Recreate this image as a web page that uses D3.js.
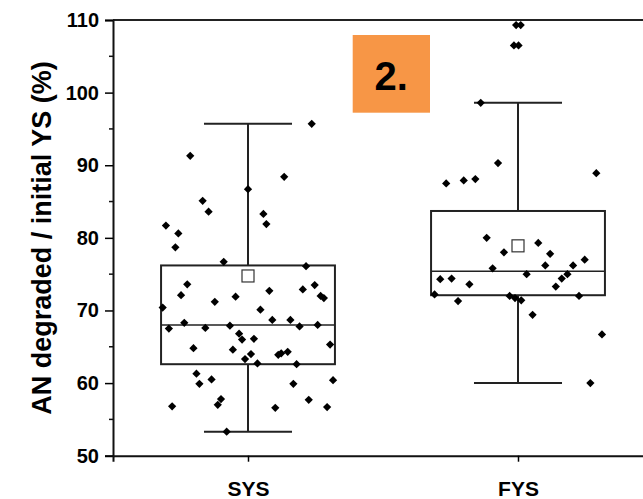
<!DOCTYPE html>
<html>
<head>
<meta charset="utf-8">
<script src="https://cdn.jsdelivr.net/npm/d3@7"></script>
<style>
body { margin: 0; background: #fff; }
svg { display: block; overflow: hidden; }
text { font-family: "Liberation Sans", Arial, sans-serif; font-weight: bold; }
</style>
</head>
<body>
<div id="chart"></div>
<script>
width = 643
height = 499

// groups on the x axis
let categories = ["SYS", "FYS"]

// raw points (value, horizontal jitter in category units)
let sysValues = [95.7, 91.3, 88.4, 86.7, 85.1, 83.6, 83.3, 81.9, 81.7, 80.6, 78.7, 76.7, 76.1,
	73.6, 72.1, 73.5, 72.9, 72.0, 71.7, 72.7, 71.9, 71.2, 70.4, 70.1, 68.7, 68.7, 68.3, 67.5,
	67.6, 67.9, 67.8, 68.0, 66.8, 66.0, 66.1, 65.3, 64.8, 64.6, 64.0, 63.9, 64.1, 64.3, 63.3,
	62.7, 62.6, 61.3, 59.9, 60.5, 59.9, 60.4, 57.7, 57.8, 57.0, 56.8, 56.6, 56.7, 53.3]
let sysJitter = [0.236, -0.214, 0.134, 0, -0.168, -0.146, 0.057, 0.068, -0.304, -0.258, -0.269, -0.09, 0.215,
	-0.225, -0.248, 0.247, 0.203, 0.269, 0.281, 0.079, -0.046, -0.123, -0.316, 0.046, 0.09, 0.157, -0.236, -0.293,
	-0.158, -0.067, 0.191, 0.258, -0.033, -0.022, 0.022, 0.304, -0.202, -0.056, 0.011, 0.112, 0.123, 0.147, -0.011,
	0.035, 0.18, -0.191, -0.18, -0.135, 0.168, 0.315, 0.225, -0.1, -0.112, -0.281, 0.101, 0.293, -0.079]

let fysValues = [109.3, 109.3, 106.5, 106.5, 98.6, 90.3, 87.5, 87.9, 88.1, 88.9,
	80.0, 79.3, 78.0, 77.8, 77.0, 76.2, 76.2, 75.8, 75.0, 75.0, 74.4, 74.3, 74.4, 73.6, 73.3,
	72.2, 72.0, 72.0, 71.7, 71.4, 71.3, 69.4, 66.7, 60.0]
let fysJitter = [-0.007, 0.01, -0.015, 0.002, -0.138, -0.074, -0.266, -0.201, -0.158, 0.29,
	-0.116, 0.075, -0.052, 0.119, 0.247, 0.101, 0.204, -0.094, 0.032, 0.183, 0.162, -0.288, -0.246, -0.18, 0.14,
	-0.309, 0.226, -0.031, -0.011, 0.012, -0.222, 0.054, 0.311, 0.268]

// box statistics
let q1 = [62.6, 72.1]
let medians = [68.0, 75.4]
let q3 = [76.2, 83.7]
let whiskerLow = [53.3, 60.0]
let whiskerHigh = [95.7, 98.6]
let means = [74.75, 78.9]

let yTicks = [50, 60, 70, 80, 90, 100, 110]
let yMinorTicks = [55, 65, 75, 85, 95, 105]

let svg = d3.select("#chart")
.append("svg")
.attr("width", width)
.attr("height", height)

let x = d3.scaleLinear().domain([0.5, 2.5]).range([113, 653])
let y = d3.scaleLinear().domain([50, 110]).range([455.7, 20])

let boxHalf = 0.322
let capHalf = 0.163

// frame top line
svg.append("line")
.attr("x1", x(0.5)).attr("x2", x(2.5))
.attr("y1", y(110)).attr("y2", y(110))
.attr("stroke", "#222").attr("stroke-width", 2)

// y axis
let yAxis = svg.append("g")
.attr("transform", "translate(" + x(0.5) + ",0)")
.call(d3.axisLeft(y).tickValues(yTicks).tickSize(8).tickPadding(6))
yAxis.select(".domain").attr("stroke-width", 2).attr("stroke", "#111")
yAxis.selectAll(".tick line").attr("stroke-width", 1.5)
yAxis.selectAll(".tick text")
.attr("font-size", 20)
.attr("font-weight", "bold")
.attr("font-family", "Liberation Sans, Arial, sans-serif")
.attr("fill", "#000")

svg.append("g")
.selectAll("line")
.data(yMinorTicks)
.join("line")
.attr("x1", x(0.5) - 4).attr("x2", x(0.5))
.attr("y1", d => y(d)).attr("y2", d => y(d))
.attr("stroke", "#111").attr("stroke-width", 1.5)

// x axis
let xAxis = svg.append("g")
.attr("transform", "translate(0," + y(50) + ")")
.call(d3.axisBottom(x).tickValues([1, 2]).tickFormat((d, i) => categories[i]).tickSize(6).tickPadding(19))
xAxis.select(".domain").attr("stroke-width", 2).attr("stroke", "#111")
xAxis.selectAll(".tick line").attr("stroke-width", 1.5)
xAxis.selectAll(".tick text")
.attr("font-size", 21)
.attr("font-weight", "bold")
.attr("font-family", "Liberation Sans, Arial, sans-serif")
.attr("fill", "#000")

// y label
svg.append("text")
.attr("transform", "translate(51," + 238 + ") rotate(-90)")
.attr("text-anchor", "middle")
.attr("font-size", 27)
.text("AN degraded / initial YS (%)")

// boxes
categories.forEach((c, i) => {
	let cx = i + 1
	let g = svg.append("g")

	g.append("line")
	.attr("x1", x(cx)).attr("x2", x(cx))
	.attr("y1", y(whiskerLow[i])).attr("y2", y(q1[i]))
	.attr("stroke", "#222").attr("stroke-width", 2)
	g.append("line")
	.attr("x1", x(cx)).attr("x2", x(cx))
	.attr("y1", y(q3[i])).attr("y2", y(whiskerHigh[i]))
	.attr("stroke", "#222").attr("stroke-width", 2)

	;[whiskerLow[i], whiskerHigh[i]].forEach(v => {
		g.append("line")
		.attr("x1", x(cx - capHalf)).attr("x2", x(cx + capHalf))
		.attr("y1", y(v)).attr("y2", y(v))
		.attr("stroke", "#222").attr("stroke-width", 2)
	})

	g.append("rect")
	.attr("x", x(cx - boxHalf))
	.attr("y", y(q3[i]))
	.attr("width", x(cx + boxHalf) - x(cx - boxHalf))
	.attr("height", y(q1[i]) - y(q3[i]))
	.attr("fill", "none")
	.attr("stroke", "#222").attr("stroke-width", 2)

	g.append("line")
	.attr("x1", x(cx - boxHalf)).attr("x2", x(cx + boxHalf))
	.attr("y1", y(medians[i])).attr("y2", y(medians[i]))
	.attr("stroke", "#222").attr("stroke-width", 1.6)
})

// points
let diamond = d3.symbol().type(d3.symbolSquare).size(34)
let allPoints = []
sysValues.forEach((v, i) => allPoints.push({ g: 1, v: v, j: sysJitter[i] }))
fysValues.forEach((v, i) => allPoints.push({ g: 2, v: v, j: fysJitter[i] }))

svg.append("g")
.selectAll("path")
.data(allPoints)
.join("path")
.attr("d", diamond)
.attr("transform", d => "translate(" + x(d.g + d.j) + "," + y(d.v) + ") rotate(45)")
.attr("fill", "#000")

// means
svg.append("g")
.selectAll("rect")
.data(means)
.join("rect")
.attr("x", (d, i) => x(i + 1) - 6)
.attr("y", d => y(d) - 6)
.attr("width", 12)
.attr("height", 12)
.attr("fill", "#fff")
.attr("stroke", "#333")
.attr("stroke-width", 1.2)

// panel tag
svg.append("rect")
.attr("x", 352.7).attr("y", 35)
.attr("width", 77.3).attr("height", 77.7)
.attr("fill", "#F79646")
svg.append("text")
.attr("x", 391.3).attr("y", 90)
.attr("text-anchor", "middle")
.attr("font-size", 40)
.attr("font-family", "Liberation Sans, Arial, sans-serif")
.text("2.")
</script>
</body>
</html>
